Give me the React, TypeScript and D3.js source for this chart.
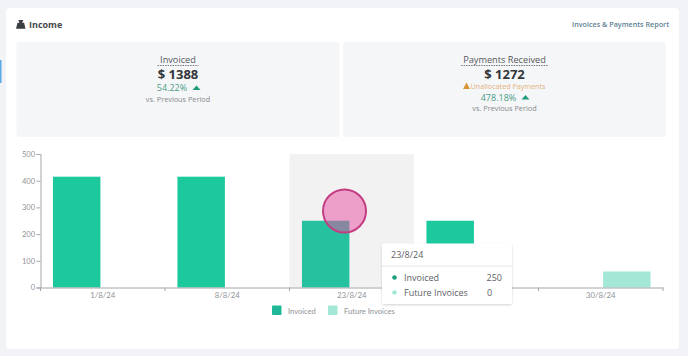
import React, { useEffect, useRef } from "react";
import * as d3 from "d3";

// "" = the fourth date label is hidden behind the tooltip in the reference
const categories = ["1/8/24", "8/8/24", "23/8/24", "", "30/8/24"];
const seriesNames = ["Invoiced", "Future Invoices"];
const invoicedValues = [415, 415, 250, 250, 0];
const futureValues = [0, 0, 0, 0, 60];
const yTicks = [0, 100, 200, 300, 400, 500];

const COL_INV = "#1bc99d";
const COL_FUT = "#a3e8d7";
const OPEN = "'Open Sans', sans-serif";
const LATO = "Lato, sans-serif";

const x0 = d3.scaleBand<string>().domain(categories).range([40.5, 663]).paddingInner(0.2).paddingOuter(0.1);
const x1 = d3.scaleBand<string>().domain(seriesNames).range([0, x0.bandwidth()]).paddingInner(0.09);
const y = d3.scaleLinear().domain([0, 500]).range([287.5, 154]);

function Card({ x, w, title, amount, pct, warn, pctY, subY }: any) {
  const cx = x + w / 2;
  return (
    <g textAnchor="middle" fontFamily={OPEN}>
      <rect x={x} y={42} width={w} height={95} rx={3} fill="#f5f6f8" />
      <text x={cx} y={62.5} fontSize={9.2} fill="#55585d" fontWeight={500}>{title}</text>
      <line x1={cx - title.length * 2.55} x2={cx + title.length * 2.55} y1={65.5} y2={65.5} stroke="#55585d" strokeWidth={0.8} strokeDasharray="1.5 1" />
      <text x={cx} y={79} fontSize={13} fontWeight={700} fill="#33363b">{amount}</text>
      {warn && (
        <g>
          <path d={`M${cx - 41.5} 89 l3.5 -6.5 l3.5 6.5 z`} fill="#d8953a" />
          <text x={cx + 3.5} y={88.5} fontSize={7.2} fill="#e3b27c">{warn}</text>
        </g>
      )}
      <text x={cx - 6} y={pctY} fontSize={9} fill="#4a9d85">{pct}</text>
      <path d={`M${cx + (pct.length > 6 ? 17 : 14.5)} ${pctY - 1.2} l4 -4.5 l4 4.5 z`} fill="#1f9c7c" />
      <text x={cx} y={subY} fontSize={7.3} fill="#85898e">vs. Previous Period</text>
    </g>
  );
}

export default function App() {
  const yRef = useRef<SVGGElement>(null);
  const xRef = useRef<SVGGElement>(null);

  useEffect(() => {
    const ya = d3.axisLeft(y).tickValues(yTicks).tickSize(4).tickPadding(1.5);
    const yg = d3.select(yRef.current!).call(ya as any);
    yg.selectAll("path,line").attr("stroke", "#a3a6aa");
    yg.selectAll("text").attr("fill", "#8f9296").attr("font-size", 7.5).attr("font-family", LATO);

    const xa = d3.axisBottom(x0).tickSize(0).tickPadding(4.5);
    const xg = d3.select(xRef.current!).call(xa as any);
    xg.select("path").attr("stroke", "#a3a6aa");
    xg.selectAll("text").attr("fill", "#8f9296").attr("font-size", 7.8).attr("font-family", LATO);
  }, []);

  const edges = categories.map((_, i) => x0.range()[0] + i * x0.step()).concat(x0.range()[1]);

  return (
    <svg width={688} height={356} style={{ position: "absolute", left: 0, top: 0 }}>
      <rect width={688} height={356} fill="#f1f3f7" />
      <rect x={0} y={60} width={1.5} height={23} fill="#5fa8e6" />
      <rect x={6} y={8} width={673} height={341} rx={4} fill="#ffffff" />

      {/* header */}
      <path d="M16 28.7 l1.5 -6 l2 0 l-1.2 -2.7 l5 0 l-1.2 2.7 l2 0 l1.4 6 z" fill="#3a3d42" />
      <text x={29} y={27.5} fontFamily={OPEN} fontSize={9} fontWeight={700} fill="#45484d">Income</text>
      <text x={669} y={27} textAnchor="end" fontFamily={OPEN} fontSize={7.2} fontWeight={600} fill="#5d7f95">Invoices &amp; Payments Report</text>

      <Card x={16.5} w={323} title="Invoiced" amount="$ 1388" pct="54.22%" pctY={91.3} subY={102} />
      <Card x={343} w={323} title="Payments Received" amount="$ 1272" pct="478.18%" warn="Unallocated Payments" pctY={100.7} subY={111.3} />

      {/* hover band */}
      <rect x={x0.range()[0] + 2 * x0.step()} y={y(500)} width={x0.step()} height={y(0) - y(500)} fill="#f2f2f2" />

      {/* bars */}
      {categories.map((c, i) => (
        <g key={i}>
          <rect x={x0(c)! + x1(seriesNames[0])!} y={y(invoicedValues[i])} width={x1.bandwidth()} height={y(0) - y(invoicedValues[i])} fill={i === 2 ? "#26c29f" : COL_INV} />
          <rect x={x0(c)! + x1(seriesNames[1])!} y={y(futureValues[i])} width={x1.bandwidth()} height={y(0) - y(futureValues[i])} fill={COL_FUT} />
        </g>
      ))}

      {/* axes */}
      <g ref={yRef} transform="translate(40.5,0)" />
      <g ref={xRef} transform="translate(0,287.5)" />
      {edges.map((e, i) => (
        <line key={i} x1={e} x2={e} y1={287.5} y2={291} stroke="#a3a6aa" />
      ))}

      {/* legend */}
      <rect x={272} y={305.5} width={9.5} height={9.5} rx={1} fill="#1fb997" />
      <text x={288} y={313.5} fontFamily={LATO} fontSize={7.5} fill="#8f9296">{seriesNames[0]}</text>
      <rect x={328} y={305.5} width={9.5} height={9.5} rx={1} fill={COL_FUT} />
      <text x={344} y={313.5} fontFamily={LATO} fontSize={7.6} fill="#8f9296">{seriesNames[1]}</text>

      {/* cursor highlight */}
      <circle cx={344.5} cy={211} r={21.5} fill="#e84ca0" fillOpacity={0.5} stroke="#c43c82" strokeWidth={2} />

      {/* tooltip */}
      <defs>
        <filter id="ts" x="-10%" y="-10%" width="120%" height="130%">
          <feDropShadow dx={0} dy={1} stdDeviation={1.2} floodColor="#000" floodOpacity={0.18} />
        </filter>
      </defs>
      <rect x={382} y={243.5} width={130} height={60.5} rx={2} fill="#fff" filter="url(#ts)" />
      <line x1={382} x2={512} y1={266} y2={266} stroke="#e6e6e6" />
      <g fontFamily={OPEN} fontSize={9} fill="#5d6166">
        <text x={391} y={258}>{categories[2]}</text>
        <circle cx={394.5} cy={277.5} r={2.3} fill="#1f9c7c" />
        <text x={404} y={281}>{seriesNames[0]}</text>
        <text x={502} y={281} textAnchor="end">{invoicedValues[2]}</text>
        <circle cx={394.5} cy={292.5} r={2.3} fill={COL_FUT} />
        <text x={404} y={296}>{seriesNames[1]}</text>
        <text x={487} y={296}>{futureValues[2]}</text>
      </g>
    </svg>
  );
}
